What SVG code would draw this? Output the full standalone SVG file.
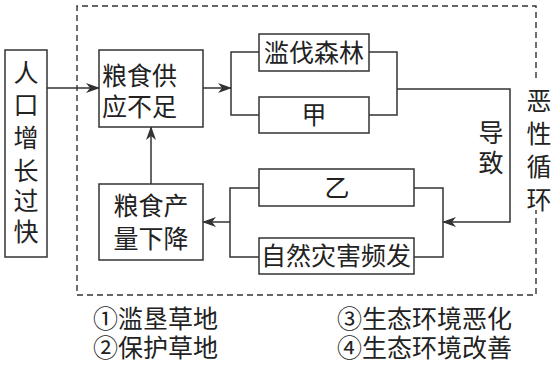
<svg xmlns="http://www.w3.org/2000/svg" width="557" height="365" viewBox="0 0 557 365">
<style>
.box{fill:#fff;stroke:#333;stroke-width:1.5}
.ln{fill:none;stroke:#333;stroke-width:1.5}
.dash{fill:none;stroke:#333;stroke-width:1.4;stroke-dasharray:6 4}
text{font-family:"Noto Sans CJK SC","Noto Sans CJK JP",sans-serif;font-size:25px;fill:#222}
.c{text-anchor:middle}
</style>
<defs>
<marker id="ah" markerWidth="14" markerHeight="10" refX="13" refY="5" orient="auto" markerUnits="userSpaceOnUse">
<path d="M0,0 L14,5 L0,10 L4,5 Z" fill="#333"/>
</marker>
</defs>
<rect width="557" height="365" fill="#fff"/>
<g id="frame">
<path class="dash" d="M536,78 V6 H77 V295 H536 V210"/>
</g>
<g id="connectors">
<path class="ln" d="M47,88 H99" marker-end="url(#ah)"/>
<path class="ln" d="M203,88 H231" marker-end="url(#ah)"/>
<path class="ln" d="M259,52 H231 V115 H259"/>
<path class="ln" d="M369,52 H397 V115 H369"/>
<path class="ln" d="M397,89 H510 V222 H443" marker-end="url(#ah)"/>
<path class="ln" d="M414,188 H443 V257 H414"/>
<path class="ln" d="M259,188 H230 V257 H259"/>
<path class="ln" d="M230,222 H203" marker-end="url(#ah)"/>
<path class="ln" d="M151,184 V127" marker-end="url(#ah)"/>
</g>
<g id="n-renkou">
<rect class="box" x="5" y="50" width="42" height="207"/>
<text class="c"><tspan x="26" y="82">人</tspan><tspan x="26" y="114">口</tspan><tspan x="26" y="147">增</tspan><tspan x="26" y="180">长</tspan><tspan x="26" y="210">过</tspan><tspan x="26" y="241">快</tspan></text>
</g>
<g id="n-gongying">
<rect class="box" x="99" y="50" width="104" height="77"/>
<text><tspan x="102" y="85">粮食供</tspan><tspan x="102" y="116">应不足</tspan></text>
</g>
<g id="n-lanfa">
<rect class="box" x="259" y="34" width="110" height="37"/>
<text class="c" x="314" y="62">滥伐森林</text>
</g>
<g id="n-jia">
<rect class="box" x="259" y="97" width="110" height="36"/>
<text class="c" x="314" y="124">甲</text>
</g>
<g id="n-yi">
<rect class="box" x="259" y="169" width="155" height="37"/>
<text class="c" x="337" y="197">乙</text>
</g>
<g id="n-ziran">
<rect class="box" x="259" y="238" width="155" height="36"/>
<text class="c" x="336" y="265">自然灾害频发</text>
</g>
<g id="n-chanliang">
<rect class="box" x="99" y="184" width="104" height="76"/>
<text class="c"><tspan x="151" y="215">粮食产</tspan><tspan x="151" y="248">量下降</tspan></text>
</g>
<g id="label-daozhi">
<text class="c"><tspan x="491" y="142">导</tspan><tspan x="491" y="172">致</tspan></text>
</g>
<g id="label-exing">
<text class="c"><tspan x="539" y="110">恶</tspan><tspan x="539" y="143">性</tspan><tspan x="539" y="176">循</tspan><tspan x="539" y="209">环</tspan></text>
</g>
<g id="options">
<text><tspan x="93" y="328">①滥垦草地</tspan><tspan x="93" y="357">②保护草地</tspan></text>
<text><tspan x="337" y="328">③生态环境恶化</tspan><tspan x="337" y="357">④生态环境改善</tspan></text>
</g>
</svg>
